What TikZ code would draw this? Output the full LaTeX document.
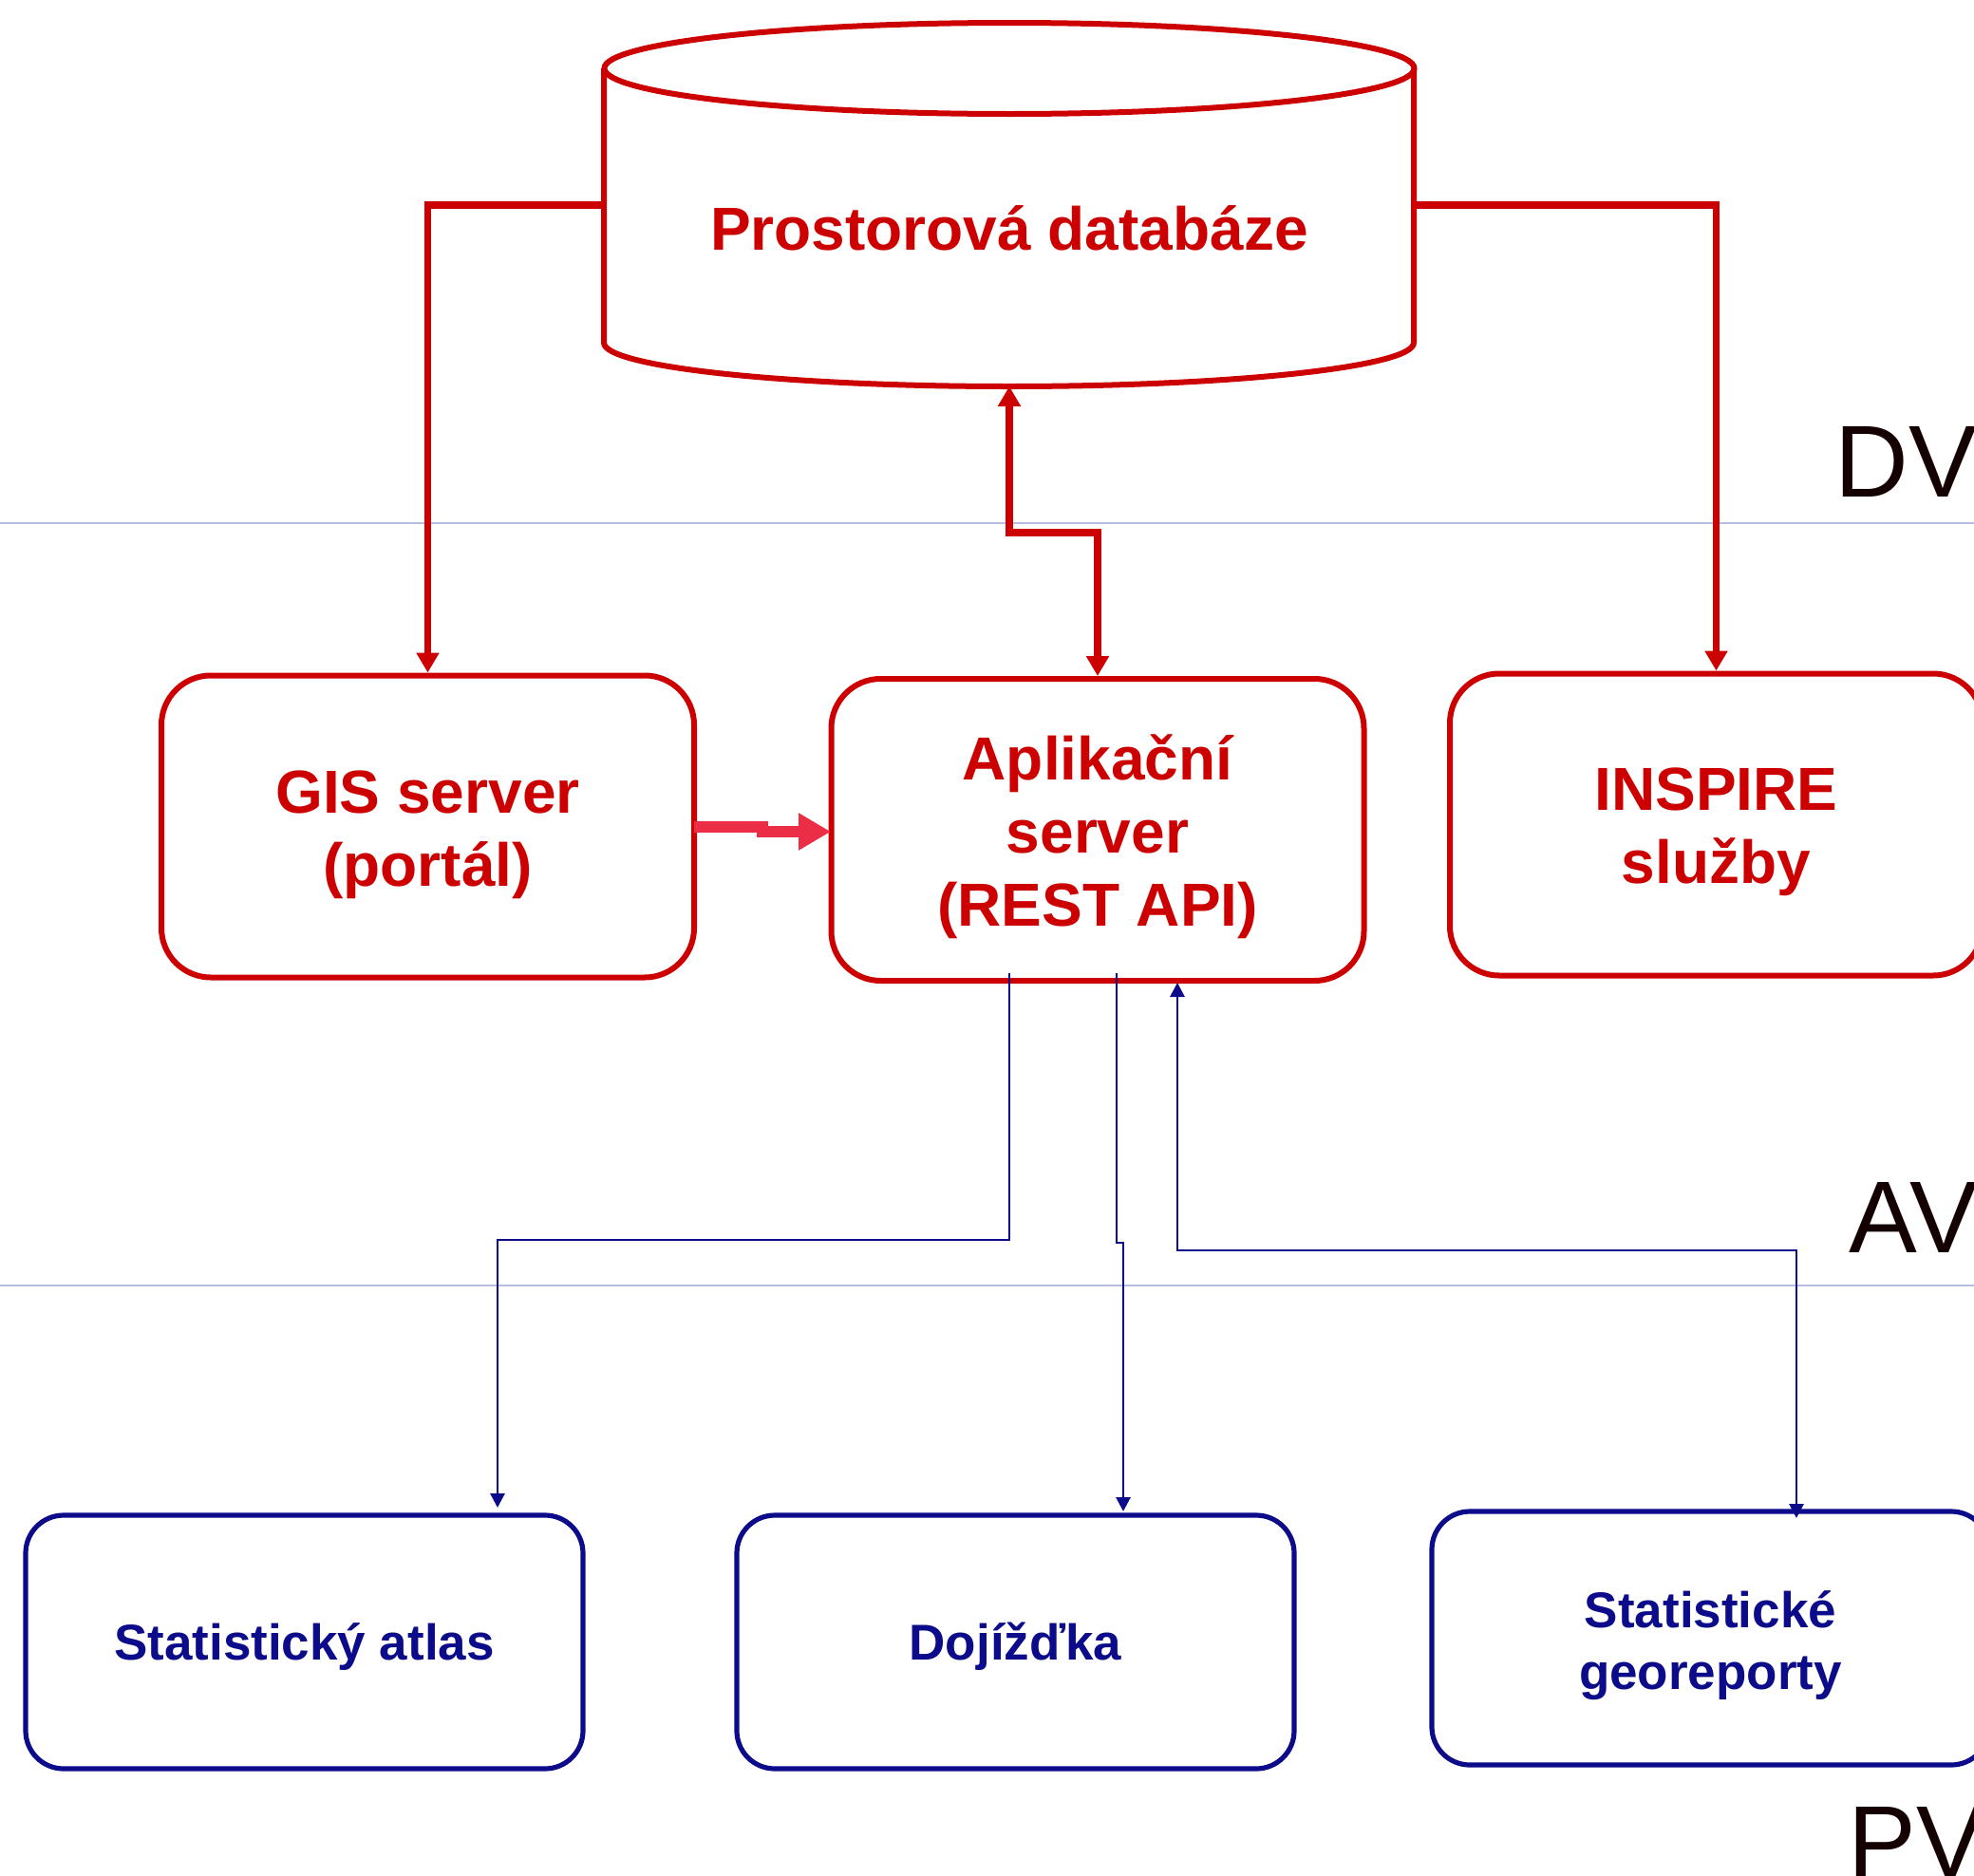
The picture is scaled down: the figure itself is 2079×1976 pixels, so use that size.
\documentclass[tikz,border=0pt]{standalone}
\usepackage{fontspec}
\setmainfont{Liberation Sans}
\usetikzlibrary{arrows.meta}
\definecolor{dbred}{RGB}{204,0,0}
\definecolor{navyb}{RGB}{12,12,138}
\definecolor{pinkred}{RGB}{235,45,70}
\definecolor{sepline}{RGB}{182,190,228}
\definecolor{lvltext}{RGB}{20,0,0}
\tikzset{
  redbox/.style={draw=dbred, line width=3pt, rounded corners=26pt, minimum width=280.5pt, minimum height=159pt, inner sep=0pt},
  redtext/.style={align=center, text=dbred, font=\bfseries\fontsize{32}{38.5}\selectfont, inner sep=0pt},
  bluebox/.style={draw=navyb, line width=2.6pt, rounded corners=20pt, minimum width=293.5pt, minimum height=133.5pt, inner sep=0pt},
  bluetext/.style={align=center, text=navyb, font=\bfseries\fontsize{26.5}{32.5}\selectfont, inner sep=0pt},
  redconn/.style={draw=dbred, line width=3.8pt, -{Triangle[width=11.5pt,length=10.5pt]}},
  pinkconn/.style={draw=pinkred, line width=6pt, -{Triangle[width=18.5pt,length=17pt]}},
  blueconn/.style={draw=navyb, line width=1.4pt, -{Triangle[width=7.5pt,length=7.5pt]}},
  lvl/.style={anchor=base west, inner sep=0pt, text=lvltext, font=\fontsize{53.8}{60}\selectfont},
  sep/.style={draw=sepline, line width=1pt}
}
\begin{document}
\begin{tikzpicture}[x=0.5pt,y=-0.5pt]
\useasboundingbox (0,0) rectangle (2079,1976);
\clip (0,0) rectangle (2079,1976);
% separator lines
\coordinate (s1a) at (0,551);
\coordinate (s1b) at (2079,551);
\coordinate (s2a) at (0,1354);
\coordinate (s2b) at (2079,1354);
\draw[sep] (s1a) -- (s1b);
\draw[sep] (s2a) -- (s2b);
% level labels
\node[lvl] (dv) at (1932,523) {DV};
\node[lvl] (av) at (1947,1319) {AV};
\node[lvl] (pv) at (1946,1977) {PV};
% database cylinder
\draw[dbred, line width=3pt] (1063,72) ellipse [x radius=213.25pt, y radius=24pt];
\draw[dbred, line width=3pt] (636,72) -- (636,361) arc[start angle=180, end angle=360, x radius=213.25pt, y radius=23pt] -- (1489,72);
\node[minimum width=426.5pt, minimum height=144.5pt, inner sep=0pt] (db) at (1062.5,216) {};
\node[redtext] (dbtext) at (1063,240) {Prostorová databáze};
\coordinate (dbbot) at (1063,407);
% middle row
\node[redbox] (gis) at (450.5,870.5) {};
\node[redtext, yshift=-4.5pt] (gist) at (gis.center) {GIS server\\(portál)};
\node[redbox] (apl) at (1156,874) {};
\node[redtext, yshift=-3.5pt] (aplt) at (apl.center) {Aplikační\\server\\(REST API)};
\node[redbox] (insp) at (1807.5,868.5) {};
\node[redtext, yshift=-4pt] (inspt) at (insp.center) {INSPIRE\\služby};
% bottom row
\node[bluebox] (atl) at (320.5,1729.5) {};
\node[bluetext, yshift=-2.5pt] (atlt) at (atl.center) {Statistický atlas};
\node[bluebox] (doj) at (1069.5,1729.5) {};
\node[bluetext, yshift=-2.5pt] (dojt) at (doj.center) {Dojížďka};
\node[bluebox] (geo) at (1801.5,1725.5) {};
\node[bluetext, yshift=-4pt] (geot) at (geo.center) {Statistické\\georeporty};
% red connectors
\draw[redconn] (db.west) -| (gis.north);
\draw[redconn] (db.east) -| (insp.north);
\coordinate (mid1) at (1063,561);
\draw[redconn, {Triangle[width=11.5pt,length=10.5pt]}-{Triangle[width=11.5pt,length=10.5pt]}] (dbbot) -- (mid1) -| (apl.north);
% pink connector
\coordinate (p0) at (731,871);
\coordinate (p1) at (803,871);
\coordinate (p2) at (803,876);
\coordinate (p3) at (875,876);
\draw[pinkconn, line join=miter] (p0) -- (p1) -- (p2) -- (p3);
% blue connectors
\coordinate (a1) at (1063,1025);
\coordinate (a2) at (1063,1306);
\coordinate (atltip) at (524,1588);
\draw[blueconn] (a1) -- (a2) -| (atltip);
\coordinate (b1) at (1176,1025);
\coordinate (b2) at (1176,1309);
\coordinate (b3) at (1183,1309);
\coordinate (dojtip) at (1183,1592);
\draw[blueconn] (b1) -- (b2) -- (b3) -- (dojtip);
\coordinate (c1) at (1240,1035);
\coordinate (c2) at (1240,1317);
\coordinate (geotip) at (1892,1599);
\draw[blueconn, {Triangle[width=7.5pt,length=7.5pt]}-{Triangle[width=7.5pt,length=7.5pt]}] (c1) -- (c2) -| (geotip);
\end{tikzpicture}
\end{document}
